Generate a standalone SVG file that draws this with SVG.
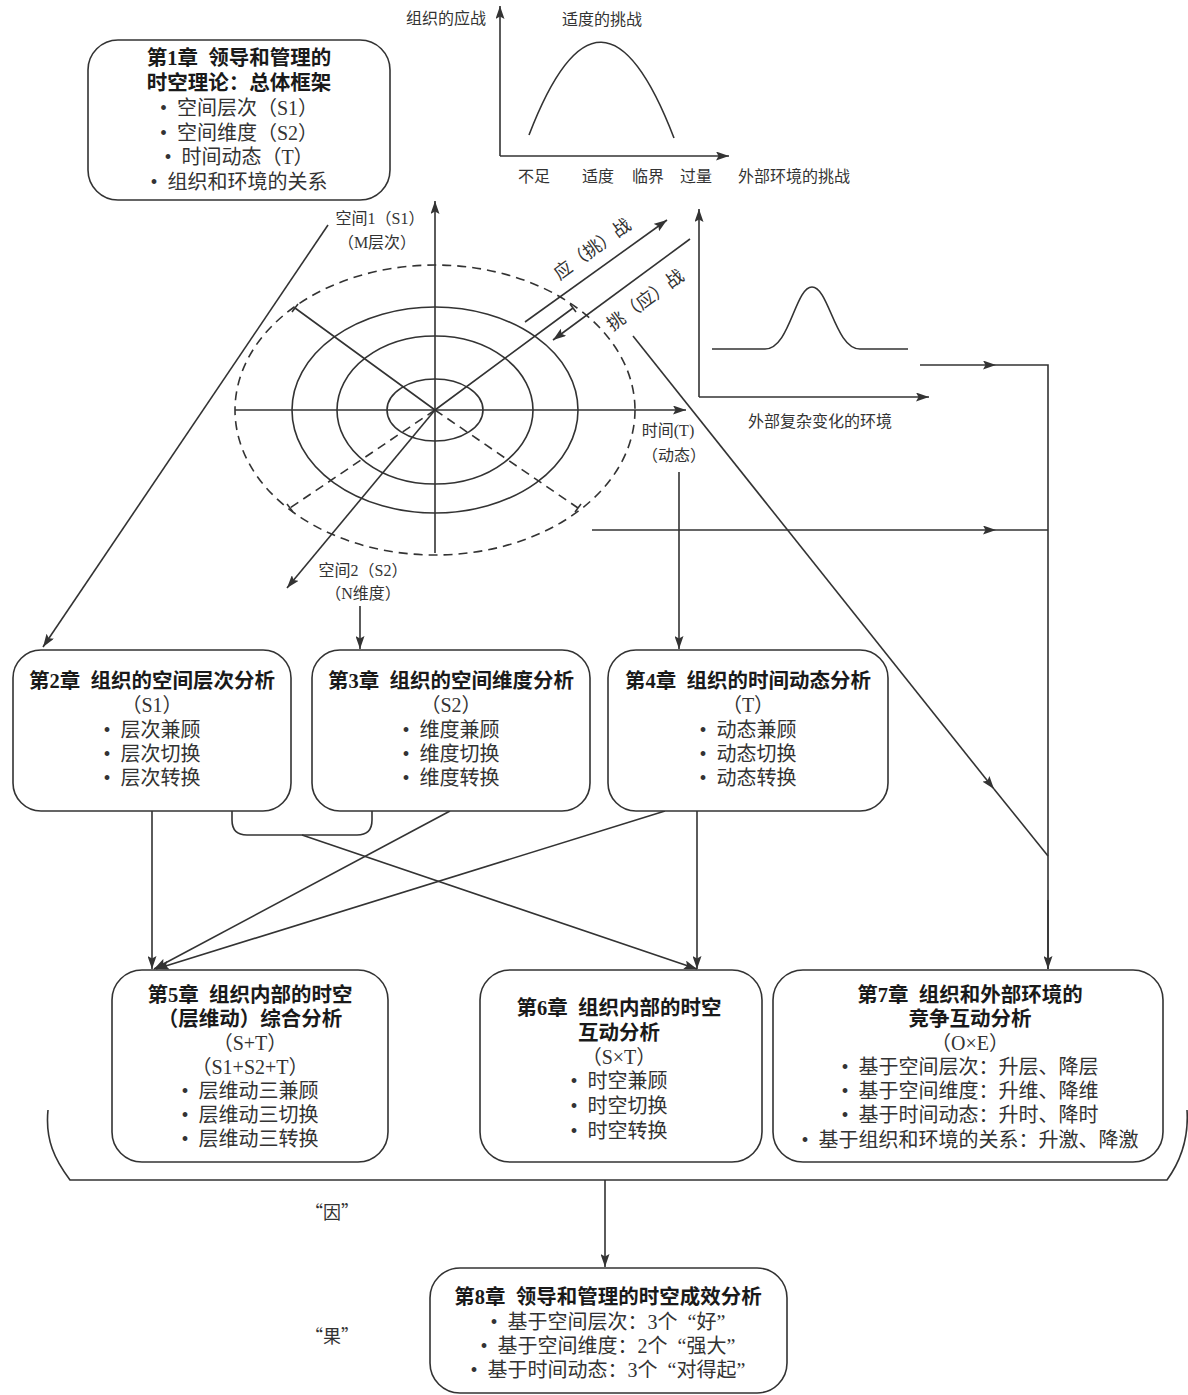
<svg xmlns="http://www.w3.org/2000/svg" width="1188" height="1395" viewBox="0 0 1188 1395">
<style>
.bx{fill:#fff;stroke:#333;stroke-width:1.6}
.ln{fill:none;stroke:#333;stroke-width:1.6}
.ds{fill:none;stroke:#333;stroke-width:1.6;stroke-dasharray:9 6}
.t{font-family:"Liberation Serif","Noto Sans CJK SC",serif;font-size:20.5px;fill:#1a1a1a;font-weight:700;text-anchor:middle}
.b{font-family:"Liberation Serif","Noto Sans CJK SC",serif;font-size:20px;fill:#333;text-anchor:middle}
.s{font-family:"Liberation Serif","Noto Sans CJK SC",serif;font-size:16px;fill:#333}
.m{text-anchor:middle}
.q{font-family:"Noto Sans CJK SC",sans-serif}
</style>
<defs>
<marker id="arr" viewBox="0 0 13 9" refX="13" refY="4.5" markerWidth="13" markerHeight="9" markerUnits="userSpaceOnUse" orient="auto">
<path d="M0,0 L13,4.5 L0,9 L2.5,4.5 Z" fill="#333"/>
</marker>
</defs>
<rect width="1188" height="1395" fill="#fff"/>

<g id="chart-challenge">
<path class="ln" d="M529,135 Q601,-52 674,138"/>
<text class="s" x="486" y="24" text-anchor="end">组织的应战</text>
<text class="s m" x="602" y="25">适度的挑战</text>
<text class="s m" x="534" y="182">不足</text>
<text class="s m" x="598" y="182">适度</text>
<text class="s m" x="648" y="182">临界</text>
<text class="s m" x="696" y="182">过量</text>
<text class="s" x="738" y="182">外部环境的挑战</text>
</g>

<g id="chart-environment">
<path class="ln" d="M712,349 L765,349 C790,349 795,287 812,287 C829,287 835,349 860,349 L908,349"/>
<text class="s" x="748" y="427">外部复杂变化的环境</text>
</g>

<g id="spacetime-model">
<ellipse class="ln" cx="435" cy="410" rx="48" ry="31"/>
<ellipse class="ln" cx="435" cy="410" rx="98" ry="74"/>
<ellipse class="ln" cx="435" cy="410" rx="143" ry="103"/>
<ellipse class="ds" cx="435" cy="410" rx="200" ry="145"/>
<path class="ln" d="M435,410 L295,308 M292,312 L298,304"/>
<path class="ln" d="M435,410 L573,308 M570,304 L576,312"/>
<path class="ds" d="M435,410 L290,508"/>
<path class="ln" d="M287,504 L293,512"/>
<path class="ds" d="M435,410 L578,508"/>
<path class="ln" d="M581,504 L575,512"/>
<text class="s m" x="380" y="224">空间1（S1）</text>
<text class="s m" x="377" y="248">（M层次）</text>
<text class="s m" x="668" y="436">时间(T)</text>
<text class="s m" x="674" y="461">（动态）</text>
<text class="s m" x="363" y="576">空间2（S2）</text>
<text class="s m" x="363" y="599">（N维度）</text>
<text class="s m" style="font-size:18px" transform="translate(596,254) rotate(-36)">应（挑）战</text>
<text class="s m" style="font-size:18px" transform="translate(649,305) rotate(-36)">挑（应）战</text>
</g>

<g id="connectors">
<path class="ln" d="M500,156 L500,6" marker-end="url(#arr)"/>
<path class="ln" d="M500,156 L729,156" marker-end="url(#arr)"/>
<path class="ln" d="M435,553 L435,201" marker-end="url(#arr)"/>
<path class="ln" d="M235,410 L686,410" marker-end="url(#arr)"/>
<path class="ln" d="M435,410 L287,588" marker-end="url(#arr)"/>
<path class="ln" d="M525,322 L667,220" marker-end="url(#arr)"/>
<path class="ln" d="M690,239 L553,340" marker-end="url(#arr)"/>
<path class="ln" d="M699,397 L699,209" marker-end="url(#arr)"/>
<path class="ln" d="M699,397 L929,397" marker-end="url(#arr)"/>
<path class="ln" d="M328,225 L43,647" marker-end="url(#arr)"/>
<path class="ln" d="M679,472 L679,649" marker-end="url(#arr)"/>
<path class="ln" d="M360,606 L360,649" marker-end="url(#arr)"/>
<path class="ln" d="M920,365 L996,365" marker-end="url(#arr)"/>
<path class="ln" d="M996,365 L1048,365 L1048,969"/>
<path class="ln" d="M1048,900 L1048,969" marker-end="url(#arr)"/>
<path class="ln" d="M592,530 L996,530" marker-end="url(#arr)"/>
<path class="ln" d="M996,530 L1048,530"/>
<path class="ln" d="M633,336 L994,789" marker-end="url(#arr)"/>
<path class="ln" d="M994,789 L1048,856"/>
<path class="ln" d="M152,811 L152,969" marker-end="url(#arr)"/>
<path class="ln" d="M450,811 L154,969" marker-end="url(#arr)"/>
<path class="ln" d="M665,811 L156,969" marker-end="url(#arr)"/>
<path class="ln" d="M232,811 L232,820 Q232,835 247,835 L357,835 Q372,835 372,820 L372,811"/>
<path class="ln" d="M302,835 L697,969" marker-end="url(#arr)"/>
<path class="ln" d="M697,811 L697,969" marker-end="url(#arr)"/>
<path class="ln" d="M48,1110 C45,1140 55,1160 70,1180 L1167,1180 C1180,1162 1189,1140 1187,1110"/>
<path class="ln" d="M605,1180 L605,1267" marker-end="url(#arr)"/>
</g>

<g id="ch1">
<rect class="bx" x="88" y="40" width="302" height="160" rx="30"/>
<text class="t" x="239" y="65">第1章&#8194;领导和管理的</text>
<text class="t" x="239" y="90">时空理论：总体框架</text>
<text class="b" x="239" y="115">•&#8194;空间层次（S1）</text>
<text class="b" x="239" y="140">•&#8194;空间维度（S2）</text>
<text class="b" x="239" y="164">•&#8194;时间动态（T）</text>
<text class="b" x="239" y="189">•&#8194;组织和环境的关系</text>
</g>

<g id="ch2">
<rect class="bx" x="13" y="650" width="278" height="161" rx="28"/>
<text class="t" x="152" y="688">第2章&#8194;组织的空间层次分析</text>
<text class="b" x="152" y="712">（S1）</text>
<text class="b" x="152" y="737">•&#8194;层次兼顾</text>
<text class="b" x="152" y="761">•&#8194;层次切换</text>
<text class="b" x="152" y="785">•&#8194;层次转换</text>
</g>

<g id="ch3">
<rect class="bx" x="312" y="650" width="278" height="161" rx="28"/>
<text class="t" x="451" y="688">第3章&#8194;组织的空间维度分析</text>
<text class="b" x="451" y="712">（S2）</text>
<text class="b" x="451" y="737">•&#8194;维度兼顾</text>
<text class="b" x="451" y="761">•&#8194;维度切换</text>
<text class="b" x="451" y="785">•&#8194;维度转换</text>
</g>

<g id="ch4">
<rect class="bx" x="608" y="650" width="280" height="161" rx="28"/>
<text class="t" x="748" y="688">第4章&#8194;组织的时间动态分析</text>
<text class="b" x="748" y="712">（T）</text>
<text class="b" x="748" y="737">•&#8194;动态兼顾</text>
<text class="b" x="748" y="761">•&#8194;动态切换</text>
<text class="b" x="748" y="785">•&#8194;动态转换</text>
</g>

<g id="ch5">
<rect class="bx" x="112" y="970" width="276" height="192" rx="30"/>
<text class="t" x="250" y="1002">第5章&#8194;组织内部的时空</text>
<text class="t" x="250" y="1026">（层维动）综合分析</text>
<text class="b" x="250" y="1050">（S+T）</text>
<text class="b" x="250" y="1074">（S1+S2+T）</text>
<text class="b" x="250" y="1098">•&#8194;层维动三兼顾</text>
<text class="b" x="250" y="1122">•&#8194;层维动三切换</text>
<text class="b" x="250" y="1146">•&#8194;层维动三转换</text>
</g>

<g id="ch6">
<rect class="bx" x="480" y="970" width="282" height="192" rx="30"/>
<text class="t" x="619" y="1015">第6章&#8194;组织内部的时空</text>
<text class="t" x="619" y="1040">互动分析</text>
<text class="b" x="619" y="1064">（S×T）</text>
<text class="b" x="619" y="1088">•&#8194;时空兼顾</text>
<text class="b" x="619" y="1113">•&#8194;时空切换</text>
<text class="b" x="619" y="1138">•&#8194;时空转换</text>
</g>

<g id="ch7">
<rect class="bx" x="773" y="970" width="390" height="192" rx="30"/>
<text class="t" x="970" y="1002">第7章&#8194;组织和外部环境的</text>
<text class="t" x="970" y="1026">竞争互动分析</text>
<text class="b" x="970" y="1050">（O×E）</text>
<text class="b" x="970" y="1074">•&#8194;基于空间层次：升层、降层</text>
<text class="b" x="970" y="1098">•&#8194;基于空间维度：升维、降维</text>
<text class="b" x="970" y="1122">•&#8194;基于时间动态：升时、降时</text>
<text class="b" x="970" y="1147">•&#8194;基于组织和环境的关系：升激、降激</text>
</g>

<g id="ch8">
<rect class="bx" x="430" y="1268" width="357" height="125" rx="30"/>
<text class="t" x="608" y="1304">第8章&#8194;领导和管理的时空成效分析</text>
<text class="b" x="608" y="1329">•&#8194;基于空间层次：3个&#8194;“好”</text>
<text class="b" x="608" y="1353">•&#8194;基于空间维度：2个&#8194;“强大”</text>
<text class="b" x="608" y="1377">•&#8194;基于时间动态：3个&#8194;“对得起”</text>
</g>

<g id="cause-effect">
<text class="b q" x="332" y="1219" style="font-size:18px">“因”</text>
<text class="b q" x="332" y="1343" style="font-size:18px">“果”</text>
</g>
</svg>
